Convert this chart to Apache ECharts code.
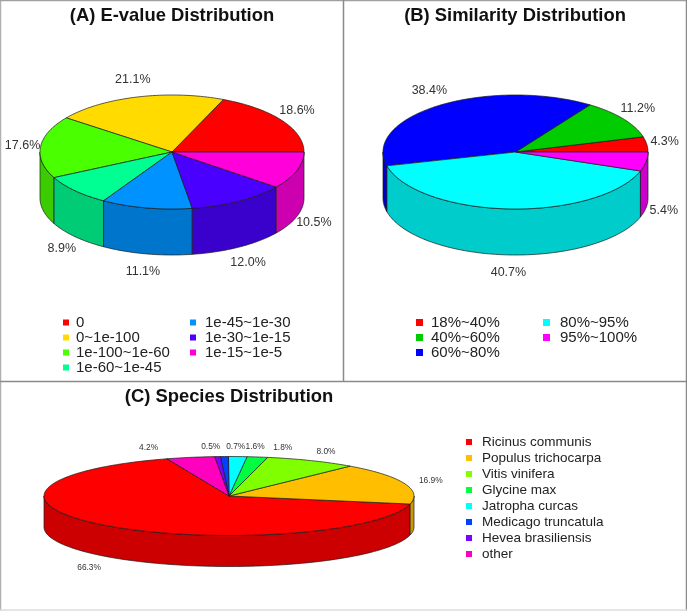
<!DOCTYPE html>
<html>
<head>
<meta charset="utf-8">
<style>html,body{margin:0;padding:0;background:#fff}#c{width:687px;height:611px}</style>
<script src="https://cdn.jsdelivr.net/npm/echarts@6/dist/echarts.min.js"></script>
</head>
<body>
<div id="c"></div>
<script>
// ---- data ----
const evalueCategories = ['0','0~1e-100','1e-100~1e-60','1e-60~1e-45','1e-45~1e-30','1e-30~1e-15','1e-15~1e-5'];
const evalueValues = [18.6,21.1,17.6,8.9,11.1,12.0,10.5];
const similarityCategories = ['18%~40%','40%~60%','60%~80%','80%~95%','95%~100%'];
const similarityValues = [4.3,11.2,38.4,40.7,5.4];
const speciesCategories = ['Ricinus communis','Populus trichocarpa','Vitis vinifera','Glycine max','Jatropha curcas','Medicago truncatula','Hevea brasiliensis','other'];
const speciesValues = [66.3,16.9,8.0,1.8,1.6,0.7,0.5,4.2];

// ---- styling ----
const evalueColors = ['#FF0000','#FFDB00','#49FF00','#00FF92','#0092FF','#4900FF','#FF00DB'];
const similarityColors = ['#FF0000','#00CC00','#0000FF','#00FFFF','#FF00FF'];
const speciesColors = ['#FF0000','#FFBF00','#80FF00','#00FF40','#00FFFF','#0040FF','#8000FF','#FF00BF'];
const FONT = '"Liberation Sans", Arial, Helvetica, sans-serif';

function darker(hex){
  const n = parseInt(hex.slice(1),16);
  const f = c => Math.round(c*0.8);
  return 'rgb('+f(n>>16&255)+','+f(n>>8&255)+','+f(n&255)+')';
}

const pies = [
  {names:evalueCategories, values:evalueValues, colors:evalueColors, cx:172, cy:152, rx:132, ry:57, depth:46, start:0,
   lx:18, ly:18, font:12.5, nudge:[]},
  {names:similarityCategories, values:similarityValues, colors:similarityColors, cx:515.5, cy:152, rx:132.5, ry:57, depth:46, start:0,
   lx:18, ly:18, font:12.5, nudge:[]},
  {names:speciesCategories, values:speciesValues, colors:speciesColors, cx:229, cy:496, rx:185, ry:39.5, depth:31, start:109.6,
   lx:28, ly:9.5, font:8.4, nudge:[[0,4],[0,0],[2,0],[21,0],[16,0],[12,0],[-5,0],[-36,0]]}
];

function arc(p, a0, a1, dy){
  const pts = [], n = Math.max(2, Math.ceil(Math.abs(a1-a0)/1.5));
  for(let i=0;i<=n;i++){
    const a = (a0+(a1-a0)*i/n)*Math.PI/180;
    pts.push([p.cx+p.rx*Math.cos(a), p.cy-p.ry*Math.sin(a)+dy]);
  }
  return pts;
}

function wallParts(p, a0, a1){
  // front-facing ranges of the side: angles 180..360 (mod 360)
  const out = [];
  for(const k of [-360,0,360]){
    const lo = Math.max(a0, 180+k), hi = Math.min(a1, 360+k);
    if(hi>lo) out.push([lo,hi]);
  }
  return out;
}

function makeSeries(p){
  const total = p.values.reduce((s,v)=>s+v,0);
  return p.names.map((name,idx)=>{
    const before = p.values.slice(0,idx).reduce((s,v)=>s+v,0);
    return {
      type:'custom', name:name, coordinateSystem:'none', silent:true, animation:false,
      itemStyle:{color:p.colors[idx]},
      data:[[p.values[idx]]],
      renderItem:function(params, api){
        const v = api.value(0);
        const a0 = p.start + before/total*360, a1 = a0 + v/total*360;
        const children = [];
        const line = {stroke:'#1a1a1a', lineWidth:0.7};
        wallParts(p,a0,a1).forEach(r=>{
          const top = arc(p,r[0],r[1],0), bot = arc(p,r[0],r[1],p.depth).reverse();
          children.push({type:'polygon', shape:{points:top.concat(bot)}, style:Object.assign({fill:darker(p.colors[idx])},line)});
        });
        children.push({type:'polygon', shape:{points:[[p.cx,p.cy]].concat(arc(p,a0,a1,0))},
          style:Object.assign({fill:p.colors[idx]},line)});
        const mid = (a0+a1)/2*Math.PI/180, s = Math.sin(mid), c = Math.cos(mid);
        const nd = p.nudge[idx]||[0,0];
        children.push({type:'text', z2:10, style:{
          text:v.toFixed(1)+'%',
          x:p.cx+(p.rx+p.lx)*c+nd[0],
          y:p.cy-(p.ry+p.ly)*s+(s<0?p.depth:0)+nd[1],
          fill:'#333', font:p.font+'px '+FONT, align:'center', verticalAlign:'middle'}});
        return {type:'group', children:children};
      }
    };
  });
}

function legend(names,left,top,size,pitch,icon,pad){
  return {data:names.map(n=>({name:n,icon:'rect'})), orient:'vertical', left:left, top:top, padding:0,
    itemWidth:icon, itemHeight:icon, itemGap:0, selectedMode:false,
    textStyle:{fontFamily:FONT, fontSize:size, color:'#222', lineHeight:pitch, padding:[0,0,0,pad]}};
}
function title(text,x,y){
  return {text:text, left:x, top:y, textAlign:'center', padding:0,
    textStyle:{fontFamily:FONT, fontSize:18.4, fontWeight:'bold', color:'#111'}};
}
function rule(x1,y1,x2,y2,c){
  return {type:'line', shape:{x1,y1,x2,y2}, style:{stroke:c||'#8a8a8a', lineWidth:1.5}, silent:true};
}

const chart = echarts.init(document.getElementById('c'), null, {renderer:'canvas'});
chart.setOption({
  backgroundColor:'#fff',
  animation:false,
  title:[title('(A) E-value Distribution',172,7),title('(B) Similarity Distribution',515,7),title('(C) Species Distribution',229,388)],
  legend:[
    legend(evalueCategories.slice(0,4),63,315,15,14.4,6,2),
    legend(evalueCategories.slice(4),190,315,15,14.4,6,4),
    legend(similarityCategories.slice(0,3),416,315,15,14,7,3),
    legend(similarityCategories.slice(3),543,315,15,14,7,5),
    legend(speciesCategories,466,434,13.5,16,6,5)
  ],
  graphic:[
    rule(0.5,0,0.5,611,'#b0b0b0'),
    rule(0,0.5,687,0.5,'#a0a0a0'),
    rule(343.5,0,343.5,381),
    rule(0,381.5,687,381.5),
    rule(686.5,0,686.5,611),
    rule(0,610,687,610,'#dddddd')
  ],
  series:pies.flatMap(makeSeries)
});
</script>
</body>
</html>
